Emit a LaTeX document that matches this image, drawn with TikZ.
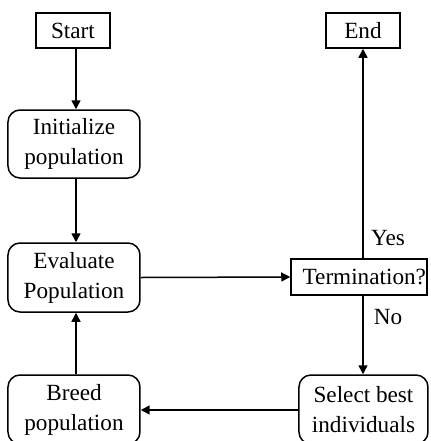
\documentclass[tikz,border=0pt]{standalone}
\usepackage{fontspec}
\setmainfont{Liberation Serif}
\usetikzlibrary{arrows.meta}
\begin{document}
\begin{tikzpicture}[x=0.5pt,y=-0.5pt,
  every node/.style={font=\fontsize{11.6}{15}\selectfont},
  plainbox/.style={draw,line width=0.75pt,inner sep=0pt,align=center},
  roundbox/.style={draw,line width=0.75pt,rounded corners=6pt,inner sep=0pt,align=center,minimum width=66pt,minimum height=34.5pt},
  conn/.style={line width=0.75pt,-{Triangle[length=4.5pt,width=4.5pt]}}]
\useasboundingbox (0,0) rectangle (431,441);
\node[plainbox,minimum width=37pt,minimum height=17.5pt] (start) at (73,30.5) {Start};
\node[plainbox,minimum width=37pt,minimum height=17.5pt] (end) at (363,30.5) {End};
\node[roundbox,minimum height=34pt] (init) at (74,144) {Initialize\\population};
\node[roundbox] (eval) at (74,277.5) {Evaluate\\Population};
\node[roundbox] (breed) at (74,409.5) {Breed\\population};
\node[roundbox,minimum width=64.5pt] (select) at (363.5,409.5) {Select best\\individuals};
\node[plainbox,text width=67pt,align=right,minimum height=18pt,inner xsep=0.5pt] (term) at (359,277) {Termination?};
\coordinate (ax) at (76,0);
\coordinate (ay) at (0,410);
\coordinate (tn) at (term.north -| end.south);
\coordinate (ts) at (term.south -| end.south);
\draw[conn] (start.south -| ax) -- (init.north -| ax);
\draw[conn] (init.south -| ax) -- (eval.north -| ax);
\draw[conn] (breed.north -| ax) -- (eval.south -| ax);
\draw[conn] (eval.east) -- (term.west);
\draw[conn] (tn) -- (end.south);
\draw[conn] (ts) -- (ts |- select.north);
\draw[conn] (select.west |- ay) -- (breed.east |- ay);
\node (yes) at (388,238) {Yes};
\node (no) at (388,317) {No};
\end{tikzpicture}
\end{document}
